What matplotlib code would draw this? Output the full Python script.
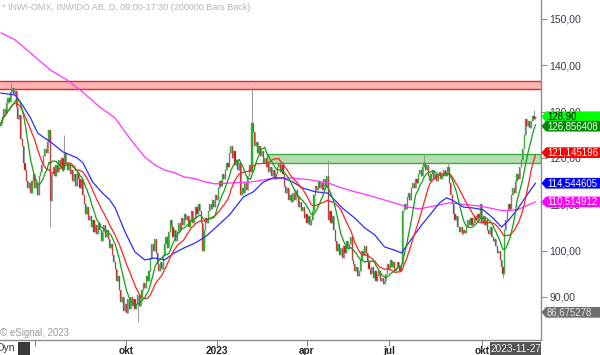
import numpy as np
import pandas as pd
import matplotlib
matplotlib.use('Agg')
import matplotlib.pyplot as plt
from matplotlib.patches import Polygon, Rectangle
from matplotlib import transforms

plt.rcParams['font.family'] = ['Liberation Sans', 'DejaVu Sans']

# daily closes (one per trading day)
closes = [
    127.5, 128.8, 130.5, 129.6, 131.8, 133.0, 132.1, 134.2, 135.0, 133.8,
    134.5, 131.0, 128.5, 129.2, 124.0, 122.5, 119.0, 117.5, 115.0, 113.5,
    114.5, 112.5, 115.0, 116.5, 113.5, 114.5, 112.0, 116.0, 117.0, 118.5,
    120.5, 122.0, 121.0, 123.5, 126.0, 110.8, 116.5, 118.0, 116.0, 118.5,
    117.0, 119.5, 118.0, 120.0, 117.5, 121.0, 119.0, 117.5, 118.5, 116.5,
    117.5, 115.0, 116.5, 114.0, 117.0, 115.5, 113.5, 115.5, 112.0, 110.0,
    108.0, 109.5, 106.5, 107.5, 105.0, 106.5, 104.0, 105.5, 103.5, 106.0,
    104.5, 102.0, 104.0, 105.5, 103.0, 104.5, 102.5, 100.5, 101.5, 99.0,
    97.5, 96.0, 93.5, 94.5, 91.5, 89.0, 90.0, 87.0, 88.5, 86.5,
    89.5, 87.5, 90.0, 88.0, 89.5, 87.5, 88.5, 90.5, 88.0, 90.0,
    91.5, 93.0, 92.0, 94.5, 93.5, 95.5, 98.5, 101.5, 100.0, 102.5,
    99.5, 97.0, 95.5, 97.5, 96.0, 99.0, 101.5, 103.0, 100.5, 104.0,
    106.5, 105.0, 103.0, 104.5, 102.0, 104.0, 106.0, 104.5, 107.0, 105.5,
    108.0, 106.5, 107.5, 105.0, 106.5, 108.5, 106.0, 107.0, 109.5, 108.0,
    110.0, 108.5, 106.0, 100.0, 104.5, 107.0, 106.0, 108.5, 110.0, 109.0,
    111.0, 109.5, 112.0, 111.0, 113.5, 115.0, 114.0, 116.5, 115.5, 117.5,
    119.0, 118.0, 121.0, 122.5, 120.0, 121.5, 118.5, 119.5, 117.5, 119.0,
    112.0, 113.5, 112.5, 114.5, 113.0, 116.0, 118.5, 117.0, 127.5, 125.5,
    122.5, 123.5, 121.0, 122.5, 120.5, 121.5, 119.0, 120.0, 118.0, 119.0,
    117.0, 118.0, 116.0, 117.5, 115.5, 116.5, 118.0, 119.0, 117.0, 118.5,
    116.5, 114.0, 112.5, 113.5, 111.0, 112.0, 110.5, 112.5, 111.0, 113.0,
    111.5, 109.5, 110.5, 108.5, 109.5, 107.0, 108.0, 106.0, 107.5, 105.5,
    106.5, 108.5, 112.0, 114.0, 113.0, 115.0, 113.5, 114.5, 113.0, 115.5,
    114.0, 116.0, 106.5, 108.5, 106.0, 107.5, 104.5, 102.0, 100.0, 101.5,
    99.0, 100.5, 98.5, 101.0, 99.5, 102.0, 100.5, 101.5, 103.0, 98.0,
    97.0, 95.5, 96.5, 94.5, 95.5, 98.0, 100.0, 99.0, 101.0, 99.5,
    97.5, 96.0, 95.0, 96.5, 94.0, 95.5, 93.5, 94.5, 95.5, 93.5,
    94.0, 92.8, 93.5, 95.0, 97.0, 96.0, 98.0, 96.5, 97.5, 95.5,
    96.0, 97.5, 96.5, 95.5, 97.0, 108.5, 110.0, 109.0, 111.5, 112.5,
    111.0, 113.5, 114.5, 113.5, 115.5, 114.5, 116.5, 117.5, 116.0, 118.0,
    119.0, 117.5, 118.5, 116.0, 115.0, 116.5, 117.5, 115.5, 116.5, 115.0,
    116.5, 117.0, 115.5, 116.0, 117.5, 116.0, 117.0, 118.0, 114.5, 112.0,
    110.0, 108.0, 106.5, 107.5, 105.0, 104.0, 105.0, 103.5, 104.5, 103.8,
    105.0, 106.5, 105.5, 107.0, 105.5, 106.0, 107.5, 106.5, 108.0, 107.0,
    110.0, 106.0, 107.5, 105.5, 106.5, 104.5, 103.5, 105.0, 103.0, 102.0,
    102.5, 101.0, 99.5, 100.0, 98.0, 96.5, 95.0, 104.5, 106.5, 108.5,
    110.0, 109.0, 112.0, 113.5, 112.5, 115.0, 116.5, 115.5, 118.0, 119.5,
    122.0, 125.0, 128.5, 127.0, 128.0, 126.5, 128.0, 129.0, 128.5, 128.9,
]
first_open = 127.0

# long wicks that stick out of the bodies
high_bars = [7, 45, 178, 232, 300, 317, 378]
high_vals = [136.5, 125.0, 135.3, 119.5, 120.6, 119.0, 130.4]
low_bars = [35, 97, 356]
low_vals = [105.0, 84.6, 94.0]

# blue and magenta averages
blue_bars = [0, 10, 14, 21, 26, 30, 35, 44, 54, 58, 65, 72, 77, 81, 88, 95, 102, 109, 116, 123,
             130, 138, 145, 152, 162, 172, 179, 186, 193, 200, 207, 214, 223, 232, 242, 251, 258,
             265, 272, 279, 284, 298, 305, 311, 316, 320, 328, 335, 342, 349, 355, 359, 366, 373, 379]
blue_vals = [134.0, 133.6, 132.0, 128.6, 125.4, 124.5, 123.5, 121.3, 120.0, 119.0, 114.8, 112.4,
             111.0, 109.2, 104.0, 99.7, 98.0, 98.4, 98.0, 99.5, 100.6, 101.7, 103.0, 104.9, 107.7,
             111.6, 112.7, 114.8, 115.7, 115.7, 114.8, 113.5, 112.7, 112.4, 109.2, 107.0, 104.9,
             103.4, 100.8, 100.1, 99.5, 105.4, 108.0, 110.3, 111.4, 110.9, 109.4, 109.2, 108.8,
             107.0, 105.1, 106.2, 108.8, 112.0, 114.54]
magenta_bars = [0, 10, 35, 47, 58, 70, 81, 88, 95, 102, 109, 116, 123, 130, 138, 145, 152, 162,
                177, 191, 205, 219, 232, 242, 251, 260, 270, 279, 287, 297, 318, 340, 356, 366, 379]
magenta_vals = [147.0, 145.5, 139.0, 136.8, 134.2, 131.0, 128.6, 125.6, 122.8, 120.2, 118.5,
                117.4, 116.8, 115.9, 115.5, 114.8, 114.4, 114.6, 114.8, 115.5, 115.7, 115.3,
                114.6, 113.5, 112.7, 112.0, 111.1, 110.3, 109.5, 109.0, 110.3, 109.6, 108.6,
                108.8, 110.51]

# support / resistance zones
red_zone = (134.8, 136.6)
green_zone = (119.0, 120.8)
green_zone_start = 189

month_bars = [24, 89, 153, 217, 275, 341]
month_labels = ['', 'okt', '2023', 'apr', 'jul', 'okt']

last_labels = ['128,90', '126,856408', '121,145196', '114,544605', '110,514912', '86,675278']
last_values = [128.90, 126.856408, 121.145196, 114.544605, 110.514912, 86.675278]
last_colors = ['#00ff00', '#008c00', '#ff0000', '#0000ff', '#ff00ff', '#6e6e6e']
last_text = ['black', 'white', 'white', 'white', 'white', '#e6e6e6']

# ---------------------------------------------------------------
c = np.array(closes)
o = np.array([first_open] + closes[:-1])
hi = np.maximum(o, c)
lo = np.minimum(o, c)
hi[high_bars] = high_vals
lo[low_bars] = low_vals
x = np.arange(len(c))
ma_fast = pd.Series(c).rolling(10, min_periods=1).mean()
ma_slow = pd.Series(c).rolling(20, min_periods=1).mean()

W, H = 600, 355
fig = plt.figure(figsize=(W / 100, H / 100), dpi=100)
ax = fig.add_axes([0, 15 / H, 541 / W, 340 / H])
xmin, xmax = -0.71, 382.98
ax.set_xlim(xmin, xmax)
ax.set_ylim(80.7, 154.1)

# zones
ax.axhspan(red_zone[0], red_zone[1], color='#ffb4b4', zorder=1, lw=0)
for v in red_zone:
    ax.axhline(v, color='#e8262a', lw=1.0, zorder=1.5)
ax.add_patch(Rectangle((green_zone_start - 0.5, green_zone[0]), xmax - green_zone_start + 0.5,
                       green_zone[1] - green_zone[0], facecolor='#b2deb0', edgecolor='#3fae3f',
                       lw=1.0, zorder=1.5))

# candles
up = c >= o
ax.vlines(x, lo, hi, color='#8a8a8a', lw=0.6, zorder=3)
body_h = np.maximum(np.abs(c - o), 0.2)
ax.bar(x, body_h, bottom=np.minimum(o, c), width=0.8,
       color=np.where(up, '#00c400', '#e40000'), edgecolor='#8a8a8a', linewidth=0.3, zorder=4)

# moving averages
ax.plot(magenta_bars, magenta_vals, color='#ff33ff', lw=0.9, zorder=5)
ax.plot(blue_bars, blue_vals, color='#2b2bff', lw=0.9, zorder=5)
ax.plot(x, ma_slow, color='#ff2222', lw=0.9, zorder=5)
ax.plot(x, ma_fast, color='#10a010', lw=0.9, zorder=5)

# axes styling
for s in ['left', 'top']:
    ax.spines[s].set_visible(False)
for s in ['right', 'bottom']:
    ax.spines[s].set_color('#8c8c8c')
    ax.spines[s].set_linewidth(1.0)
ax.yaxis.tick_right()
yt = np.arange(90, 151, 10)
ax.set_yticks(yt)
ax.set_yticklabels([f'{v:.2f}'.replace('.', ',') for v in yt])
ax.tick_params(axis='y', length=4, width=0.8, color='#8c8c8c', labelcolor='#3a3a4a',
               labelsize=7.5, pad=2)
ax.set_xticks(month_bars)
ax.set_xticklabels(month_labels, fontweight='bold')
ax.tick_params(axis='x', length=4, width=0.8, color='#8c8c8c', labelcolor='#222222',
               labelsize=7.2, pad=0)

# last-value tags on the price scale
blend = transforms.blended_transform_factory(fig.transFigure, ax.transData)
hh = 1.15
for lab, v, bg, tc in zip(last_labels, last_values, last_colors, last_text):
    pts = [(541.5 / W, v), (546 / W, v + hh), (1.0, v + hh), (1.0, v - hh), (546 / W, v - hh)]
    ax.add_patch(Polygon(pts, closed=True, transform=blend, facecolor=bg, edgecolor='none',
                         clip_on=False, zorder=10))
    ax.text(547 / W, v, lab, transform=blend, ha='left', va='center', fontsize=6.9,
            color=tc, zorder=11, clip_on=False)

# texts
fig.text(2 / W, 1 - 8 / H, '* INWI-OMX, INWIDO AB, D, 09:00-17:30 (200000 Bars Back)',
         ha='left', va='center', fontsize=6.5, color='#b4b4b4')
fig.text(0, 1 - 333 / H, '\u00a9 eSignal, 2023', ha='left', va='center', fontsize=7,
         color='#9a9a9a')
fig.text(-4 / W, 1 - 348 / H, 'Dyn', ha='left', va='center', fontsize=7.5, color='#333333')
fig.add_artist(Rectangle((18 / W, 0), 12 / W, 13 / H, transform=fig.transFigure,
                         facecolor='#3a3a3a', edgecolor='none'))
fig.add_artist(Rectangle((490 / W, 0), 51 / W, 13 / H, transform=fig.transFigure,
                         facecolor='#555555', edgecolor='none', zorder=10))
fig.text(515.5 / W, 6.5 / H, '2023-11-27', ha='center', va='center', fontsize=7.2,
         color='#f0f0f0', zorder=11)

fig.savefig('out.png', dpi=100)
